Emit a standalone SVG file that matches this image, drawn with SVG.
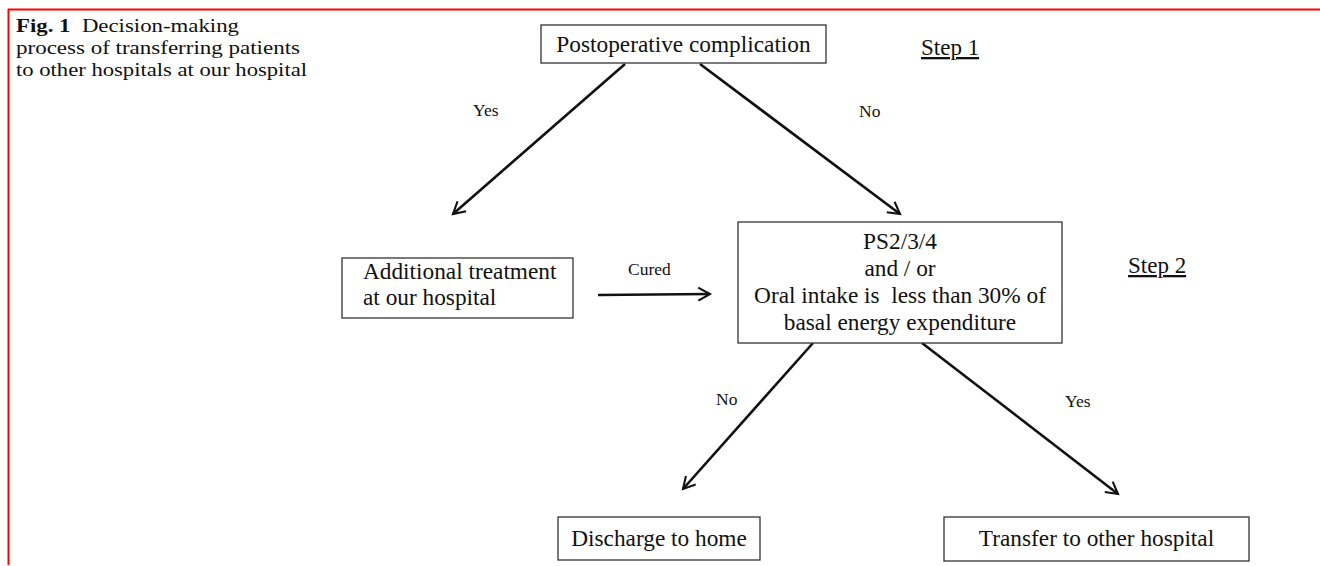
<svg xmlns="http://www.w3.org/2000/svg" width="1320" height="566" viewBox="0 0 1320 566">
<defs>
<style>
text{font-family:"Liberation Serif","Times New Roman",serif;fill:#111}
.box{fill:#fff;stroke:#333;stroke-width:1.3}
.n{font-size:23.3px}
.lbl{font-size:17.5px}
.cap{font-size:19px}
.step{font-size:23px;text-decoration:underline}
.arr{stroke:#111;stroke-width:2.6;fill:none;marker-end:url(#ah)}
</style>
<marker id="ah" viewBox="0 0 12 12" refX="10" refY="6" markerWidth="6" markerHeight="6" orient="auto" markerUnits="strokeWidth">
<path d="M1,1 L10,6 L1,11" fill="none" stroke="#111" stroke-width="1.6"/>
</marker>
</defs>
<rect width="1320" height="566" fill="#fff"/>
<g id="frame">
<line x1="8" y1="9.5" x2="1320" y2="9.5" stroke="#f00" stroke-width="2"/>
<line x1="8.5" y1="9" x2="8.5" y2="565" stroke="#f00" stroke-width="2"/>
</g>
<g id="caption">
<text class="cap" x="16" y="32" textLength="223" lengthAdjust="spacingAndGlyphs" xml:space="preserve"><tspan font-weight="bold">Fig. 1</tspan>  Decision-making</text>
<text class="cap" x="16" y="54" textLength="284" lengthAdjust="spacingAndGlyphs">process of transferring patients</text>
<text class="cap" x="16" y="76" textLength="291" lengthAdjust="spacingAndGlyphs">to other hospitals at our hospital</text>
</g>
<g id="connectors">
<line class="arr" x1="625" y1="64" x2="453" y2="214"/>
<line class="arr" x1="700" y1="64" x2="900" y2="214"/>
<line class="arr" x1="598" y1="295" x2="710" y2="294"/>
<line class="arr" x1="813" y1="343" x2="683" y2="489"/>
<line class="arr" x1="922" y1="343" x2="1118" y2="494"/>
<text class="lbl" x="473" y="116">Yes</text>
<text class="lbl" x="859" y="117">No</text>
<text class="lbl" x="628" y="275">Cured</text>
<text class="lbl" x="716" y="405">No</text>
<text class="lbl" x="1065" y="407">Yes</text>
</g>
<g id="node-complication">
<rect class="box" x="541" y="25" width="285" height="38"/>
<text class="n" x="683.5" y="52" text-anchor="middle">Postoperative complication</text>
</g>
<g id="step1"><text class="step" x="921" y="55">Step 1</text></g>
<g id="node-additional">
<rect class="box" x="342" y="258" width="231" height="60"/>
<text class="n" x="363" y="279">Additional treatment</text>
<text class="n" x="363" y="305">at our hospital</text>
</g>
<g id="node-criteria">
<rect class="box" x="738" y="222" width="324" height="121"/>
<text class="n" x="900" y="249" text-anchor="middle">PS2/3/4</text>
<text class="n" x="900" y="276" text-anchor="middle">and / or</text>
<text class="n" x="900" y="303" text-anchor="middle" xml:space="preserve">Oral intake is  less than 30% of</text>
<text class="n" x="900" y="330" text-anchor="middle">basal energy expenditure</text>
</g>
<g id="step2"><text class="step" x="1128" y="273">Step 2</text></g>
<g id="node-discharge">
<rect class="box" x="558" y="517" width="202" height="43"/>
<text class="n" x="659" y="546" text-anchor="middle">Discharge to home</text>
</g>
<g id="node-transfer">
<rect class="box" x="944" y="517" width="305" height="44"/>
<text class="n" x="1096.5" y="546" text-anchor="middle">Transfer to other hospital</text>
</g>
</svg>
